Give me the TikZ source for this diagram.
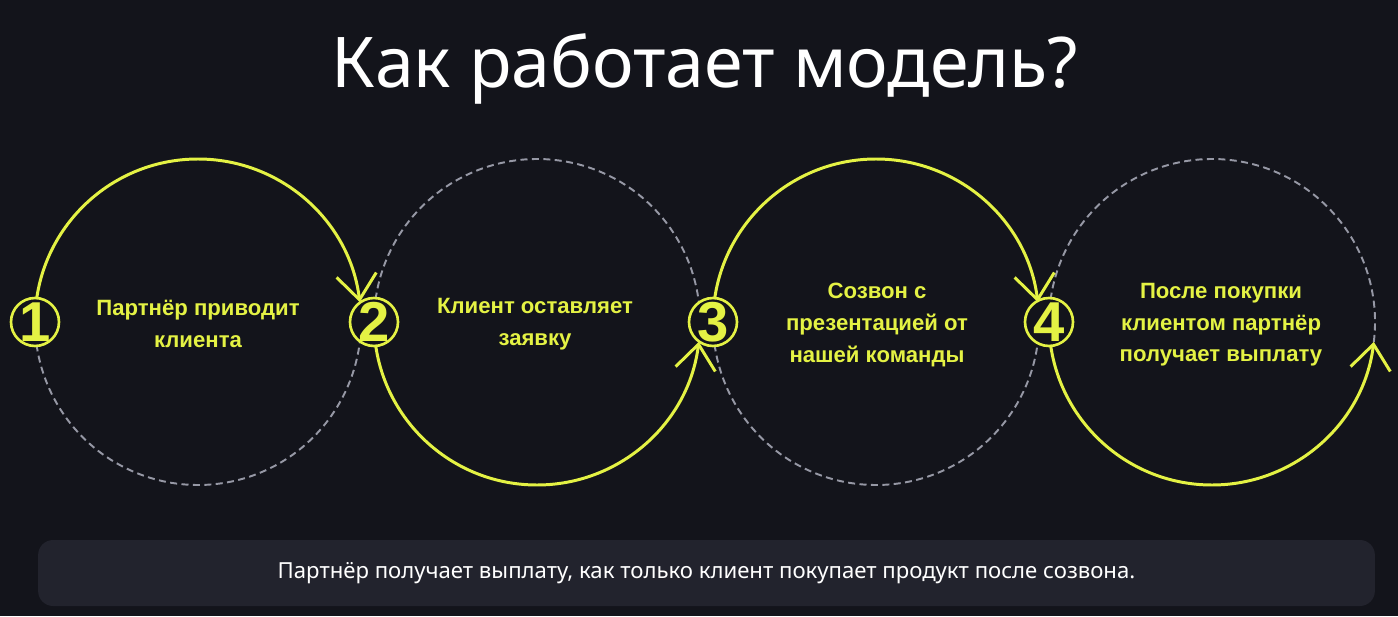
\documentclass[tikz,border=0pt]{standalone}
\usepackage{fontspec}
\setmainfont{Noto Sans}
\newfontfamily\stepfont{Liberation Sans}
\usetikzlibrary{positioning, calc, arrows.meta}

\definecolor{bgdark}{RGB}{19,20,27}
\definecolor{boxdark}{RGB}{34,35,45}
\definecolor{lime}{RGB}{228,242,68}
\definecolor{dashgray}{RGB}{150,152,165}

\tikzset{
  numcirc/.style={circle, draw=lime, line width=1.5pt, fill=bgdark,
    minimum size=0.96cm, inner sep=0pt},
  numtext/.style={text=lime, font=\stepfont\bfseries\fontsize{32}{32}\selectfont},
  steptext/.style={text=lime, align=center,
    font=\stepfont\bfseries\fontsize{12.6}{18}\selectfont},
  limepath/.style={draw=lime, line width=1.7pt,
    -{Straight Barb[length=5mm,width=8mm,line width=1.7pt]}},
  dashpath/.style={draw=dashgray, line width=1.1pt, dash pattern=on 4pt off 2.5pt},
}

\begin{document}
\begin{tikzpicture}[x=0.02cm, y=0.02cm]
    % 背景
    \fill[bgdark] (0,0) rectangle (1398,616);
    \useasboundingbox (0,0) rectangle (1398,616);

    % タイトル
    \node[text=white, font=\fontsize{39.8}{42}\selectfont, anchor=base] (title) at (705,528) {Как работает модель?};

    % 円の中心
    \coordinate (c1) at (198,294);
    \coordinate (c2) at (537,294);
    \coordinate (c3) at (876,294);
    \coordinate (c4) at (1212,294);

    % 点線の半円
    \draw[dashpath] ($(c1)+(7:163)$) arc[start angle=7, end angle=-180, radius=163];
    \draw[dashpath] ($(c2)+(-7:163)$) arc[start angle=-7, end angle=180, radius=163];
    \draw[dashpath] ($(c3)+(7:163)$) arc[start angle=7, end angle=-180, radius=163];
    \draw[dashpath] ($(c4)+(-7:163)$) arc[start angle=-7, end angle=180, radius=163];

    % 矢印の半円
    \draw[limepath] ($(c1)+(180:163)$) arc[start angle=180, end angle=7, radius=163];
    \draw[limepath] ($(c2)+(180:163)$) arc[start angle=180, end angle=353, radius=163];
    \draw[limepath] ($(c3)+(180:163)$) arc[start angle=180, end angle=7, radius=163];
    \draw[limepath] ($(c4)+(180:163)$) arc[start angle=180, end angle=353, radius=163];

    % 番号
    \node[numcirc] (n1) at ($(c1)+(-163,0)$) {};
    \node[numcirc] (n2) at ($(c2)+(-163,0)$) {};
    \node[numcirc] (n3) at ($(c3)+(-163,0)$) {};
    \node[numcirc] (n4) at ($(c4)+(-163,0)$) {};
    \node[numtext] at (n1) {1};
    \node[numtext] at (n2) {2};
    \node[numtext] at (n3) {3};
    \node[numtext] at (n4) {4};

    % ステップの説明
    \node[steptext] (t1) at ($(c1)+(0,-2)$) {Партнёр приводит\\клиента};
    \node[steptext] (t2) at ($(c2)+(-2,-2)$) {Клиент оставляет\\заявку};
    \node[steptext] (t3) at ($(c3)+(1,-3)$) {Созвон с\\презентацией от\\нашей команды};
    \node[steptext] (t4) at ($(c4)+(9,-3)$) {После покупки\\клиентом партнёр\\получает выплату};

    % 下の説明
    \node[fill=boxdark, rounded corners=0.3cm, minimum width=26.74cm, minimum height=1.32cm,
      text=white, font=\fontsize{12.6}{14}\selectfont] (note) at (706.5,43)
      {Партнёр получает выплату, как только клиент покупает продукт после созвона.};
\end{tikzpicture}
\end{document}
